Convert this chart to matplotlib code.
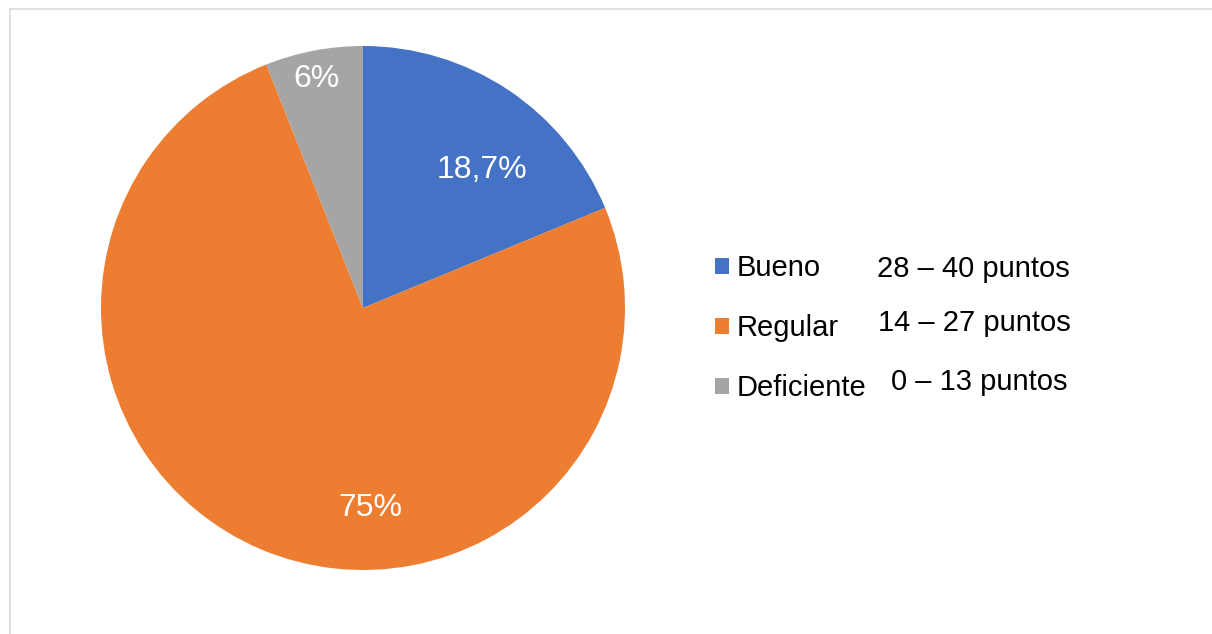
import matplotlib.pyplot as plt
from matplotlib.lines import Line2D
from matplotlib.patches import Patch

plt.rcParams["font.family"] = ["Liberation Sans", "DejaVu Sans"]

CATEGORIES = ["Bueno", "Regular", "Deficiente"]
VALUES = [18.7, 75, 6]
PCT_LABELS = ["18,7%", "75%", "6%"]
RANGES = ["28 – 40 puntos", "14 – 27 puntos", "0 – 13 puntos"]
COLORS = ["#4472C4", "#ED7D31", "#A5A5A5"]

# where Excel put the percentage labels (data coords, radius = 1)
PCT_POS = [(0.454, 0.526), (0.027, -0.764), (-0.179, 0.874)]
RANGE_POS = [(0.803, 0.5757), (0.804, 0.4905), (0.808, 0.3975)]

fig = plt.figure(figsize=(12.12, 6.34), dpi=100)
fig.patch.set_facecolor("white")

# chart-area frame (top and left edges only are visible)
fig.add_artist(Line2D([10 / 1212, 1.0], [1 - 9 / 634, 1 - 9 / 634],
                      color="#d9d9d9", linewidth=1.2))
fig.add_artist(Line2D([10 / 1212, 10 / 1212], [0.0, 1 - 9 / 634],
                      color="#d9d9d9", linewidth=1.2))

ax = fig.add_axes([101 / 1212, 64 / 634, 524 / 1212, 524 / 634])
ax.pie(VALUES, colors=COLORS, startangle=90, counterclock=False,
       radius=1.0, wedgeprops=dict(linewidth=0))
ax.set_xlim(-1, 1)
ax.set_ylim(-1, 1)
ax.set_aspect("equal")
ax.set_axis_off()

for lab, (x, y) in zip(PCT_LABELS, PCT_POS):
    ax.text(x, y, lab, color="white", fontsize=23, ha="center", va="center")

handles = [Patch(facecolor=c, edgecolor="none", label=l)
           for c, l in zip(COLORS, CATEGORIES)]
fig.legend(handles=handles, loc="upper left",
           bbox_to_anchor=(715 / 1212, 1 - 254 / 634),
           frameon=False, fontsize=21, labelspacing=1.1,
           handlelength=0.48, handleheight=0.48, handletextpad=0.27,
           borderaxespad=0, borderpad=0)

for txt, (x, y) in zip(RANGES, RANGE_POS):
    fig.text(x, y, txt, fontsize=21, ha="center", va="center", color="black")

fig.savefig("out.png", dpi=100, facecolor="white")
